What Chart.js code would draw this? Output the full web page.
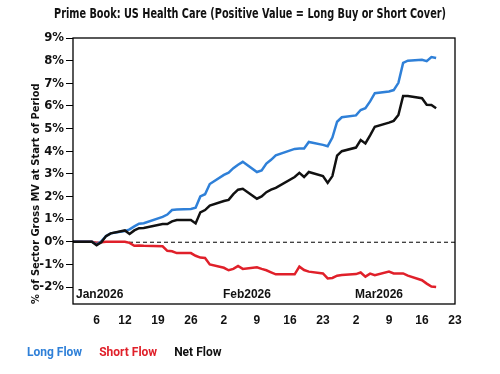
<!DOCTYPE html>
<html><head><meta charset="utf-8">
<script src="https://cdn.jsdelivr.net/npm/chart.js@4.4.1/dist/chart.umd.min.js"></script>
<style>html,body{margin:0;padding:0;background:#fff;}#wrap{width:500px;height:374px;}</style>
</head><body><div id="wrap"><canvas id="c" width="500" height="374"></canvas></div>
<script>
const dates = [
 '2026-01-01','2026-01-02','2026-01-05','2026-01-06','2026-01-07','2026-01-08','2026-01-09','2026-01-12','2026-01-13','2026-01-14','2026-01-15','2026-01-16','2026-01-20','2026-01-21','2026-01-22','2026-01-23','2026-01-26','2026-01-27','2026-01-28','2026-01-29','2026-01-30',
 '2026-02-02','2026-02-03','2026-02-04','2026-02-05','2026-02-06','2026-02-09','2026-02-10','2026-02-11','2026-02-12','2026-02-13','2026-02-17','2026-02-18','2026-02-19','2026-02-20','2026-02-23','2026-02-24','2026-02-25','2026-02-26','2026-02-27',
 '2026-03-02','2026-03-03','2026-03-04','2026-03-05','2026-03-06','2026-03-09','2026-03-10','2026-03-11','2026-03-12','2026-03-13','2026-03-16','2026-03-17','2026-03-18','2026-03-19'
];
const longFlow = [
 0,0,0,-0.12,0.02,0.25,0.37,0.47,0.55,0.68,0.8,0.82,1.1,1.2,1.4,1.42,1.45,1.5,2.0,2.1,2.55,
 2.95,3.05,3.25,3.4,3.53,3.08,3.15,3.45,3.62,3.82,4.1,4.12,4.12,4.41,4.28,4.22,4.6,5.3,5.5,
 5.58,5.82,5.9,6.2,6.56,6.64,6.7,7.02,7.9,8.0,8.04,7.98,8.16,8.12
];
const shortFlow = [
 0,0,0,-0.05,-0.02,0,0,0,-0.05,-0.18,-0.17,-0.18,-0.2,-0.4,-0.42,-0.5,-0.5,-0.62,-0.7,-0.72,-1.0,
 -1.15,-1.26,-1.2,-1.07,-1.2,-1.13,-1.2,-1.26,-1.35,-1.44,-1.44,-1.1,-1.25,-1.32,-1.4,-1.62,-1.6,-1.5,-1.47,
 -1.43,-1.36,-1.54,-1.41,-1.48,-1.32,-1.4,-1.4,-1.4,-1.5,-1.7,-1.85,-1.98,-2.0
];
const netFlow = [
 0,0,0,-0.15,-0.02,0.25,0.37,0.5,0.34,0.5,0.6,0.61,0.78,0.78,0.9,0.96,0.96,0.81,1.3,1.4,1.6,
 1.8,1.85,2.1,2.3,2.34,1.9,2.0,2.19,2.3,2.38,2.86,3.04,2.86,3.08,2.9,2.6,2.9,3.8,4.0,
 4.16,4.49,4.34,4.7,5.08,5.26,5.34,5.6,6.44,6.44,6.34,6.05,6.04,5.9
];
const seriesNames = ['Long Flow','Short Flow','Net Flow'];
const seriesColors = ['#2f80d8','#e0202a','#111111'];
const xTickDates = ['2026-01-06','2026-01-12','2026-01-19','2026-01-26','2026-02-02','2026-02-09','2026-02-16','2026-02-23','2026-03-02','2026-03-09','2026-03-16','2026-03-23'];
const xTickLabels = ['6','12','19','26','2','9','16','23','2','9','16','23'];
const monthLabels = ['Jan2026','Feb2026','Mar2026'];
const monthLabelDates = ['2026-01-01','2026-02-02','2026-03-02'];
const yTickValues = [-2,-1,0,1,2,3,4,5,6,7,8,9];
const xRange = ['2026-01-01','2026-03-23'];
const yRange = [-2.75, 9];

const base = Date.UTC(2026,0,1);
const dayOf = s => { const [y,m,d] = s.split('-').map(Number); return (Date.UTC(y,m-1,d)-base)/86400000; };
const xDays = dates.map(dayOf);
const tickDays = xTickDates.map(dayOf);
const labelByDay = {}; tickDays.forEach((d,i)=>labelByDay[d]=xTickLabels[i]);

const NARROW = "'Liberation Sans Narrow','DejaVu Sans Condensed','Liberation Sans',sans-serif";
const BOLDF = "'Liberation Sans',Arial,sans-serif";

const mk = (vals,i) => ({
  label: seriesNames[i],
  data: vals.map((v,k)=>({x:xDays[k], y:v})),
  borderColor: seriesColors[i], backgroundColor: seriesColors[i],
  borderWidth: 2.5, pointRadius: 0, tension: 0, fill: false, yAxisID: 'y'
});

const decor = {
  id: 'decor',
  afterLayout(chart){
    // narrow the title box so its text is set in a condensed width like the reference
    const t = chart.titleBlock;
    if (t) { t.left = 54; t.right = 446; t.width = 392; }
  },
  beforeDatasetsDraw(chart){
    const {ctx, chartArea:a, scales:{y}} = chart;
    const py = y.getPixelForValue(0);
    ctx.save(); ctx.strokeStyle = '#000'; ctx.lineWidth = 1; ctx.setLineDash([4,3]);
    ctx.beginPath(); ctx.moveTo(a.left, py+0.5); ctx.lineTo(a.right, py+0.5); ctx.stroke(); ctx.restore();
  },
  afterDatasetsDraw(chart){
    const {ctx, chartArea:a, scales:{x}} = chart;
    ctx.save(); ctx.fillStyle = '#111'; ctx.font = "bold 12px " + BOLDF; ctx.textBaseline = 'middle'; ctx.textAlign = 'left';
    monthLabels.forEach((t,i)=>{
      const px = Math.max(a.left + 3, x.getPixelForValue(dayOf(monthLabelDates[i])) - 1);
      ctx.fillText(t, px, a.bottom - 9);
    });
    ctx.restore();
  },
  afterDraw(chart){
    const {ctx, chartArea:a} = chart;
    ctx.save(); ctx.strokeStyle = '#000'; ctx.lineWidth = 1.3;
    ctx.strokeRect(a.left, a.top, a.right - a.left, a.bottom - a.top); ctx.restore();
  }
};

new Chart(document.getElementById('c'), {
  type: 'line',
  data: { datasets: [mk(netFlow,2), mk(longFlow,0), mk(shortFlow,1)] },
  options: {
    responsive: false, animation: false, devicePixelRatio: 1,
    layout: { padding: { left: 10, right: 10, top: 0, bottom: 5 } },
    plugins: {
      title: { display: true, text: 'Prime Book: US Health Care (Positive Value = Long Buy or Short Cover)',
        color: '#111', font: { family: NARROW, size: 14, weight: 'bold' }, padding: { top: 6, bottom: 15.2 } },
      legend: { position: 'bottom', align: 'start',
        labels: { boxWidth: 0, boxHeight: 0, padding: 11,
          font: { family: "Roboto, sans-serif", size: 12, weight: 'bold' },
          generateLabels(chart){
            return seriesNames.map((n,i)=>({ text: n, fontColor: seriesColors[i], fillStyle: 'rgba(0,0,0,0)', strokeStyle: 'rgba(0,0,0,0)', lineWidth: 0, hidden: false, datasetIndex: i }));
          } } },
      tooltip: { enabled: false }
    },
    scales: {
      x: { type: 'linear', min: dayOf(xRange[0]), max: dayOf(xRange[1]),
        afterBuildTicks(s){ s.ticks = tickDays.map(v=>({value:v})); },
        afterFit(s){ s.height = 32; },
        grid: { display: false, drawTicks: false },
        border: { display: false },
        ticks: { autoSkip: false, maxRotation: 0, padding: 9, color: '#111',
          font: { family: BOLDF, size: 12, weight: 'bold' },
          callback: v => labelByDay[v] ?? '' } },
      y: { type: 'linear', position: 'left', min: yRange[0], max: yRange[1],
        afterBuildTicks(s){ s.ticks = yTickValues.map(v=>({value:v})); },
        afterFit(s){ s.width = 63; },
        grid: { drawOnChartArea: false, drawTicks: true, tickLength: 7, color: '#000', lineWidth: 1 },
        border: { display: false },
        ticks: { padding: 2, color: '#111', font: { family: NARROW, size: 13, weight: 'bold' },
          callback: v => v + '%' },
        title: { display: true, align: 'start', text: '% of Sector Gross MV at Start of Period', color: '#111',
          font: { family: NARROW, size: 11, weight: 'bold' }, padding: { top: 20, bottom: 0 } } },
      yRight: { type: 'linear', position: 'right', min: yRange[0], max: yRange[1],
        afterFit(s){ s.width = 35; },
        grid: { display: false, drawTicks: false }, border: { display: false },
        ticks: { display: false } }
    }
  },
  plugins: [decor]
});
</script></body></html>
